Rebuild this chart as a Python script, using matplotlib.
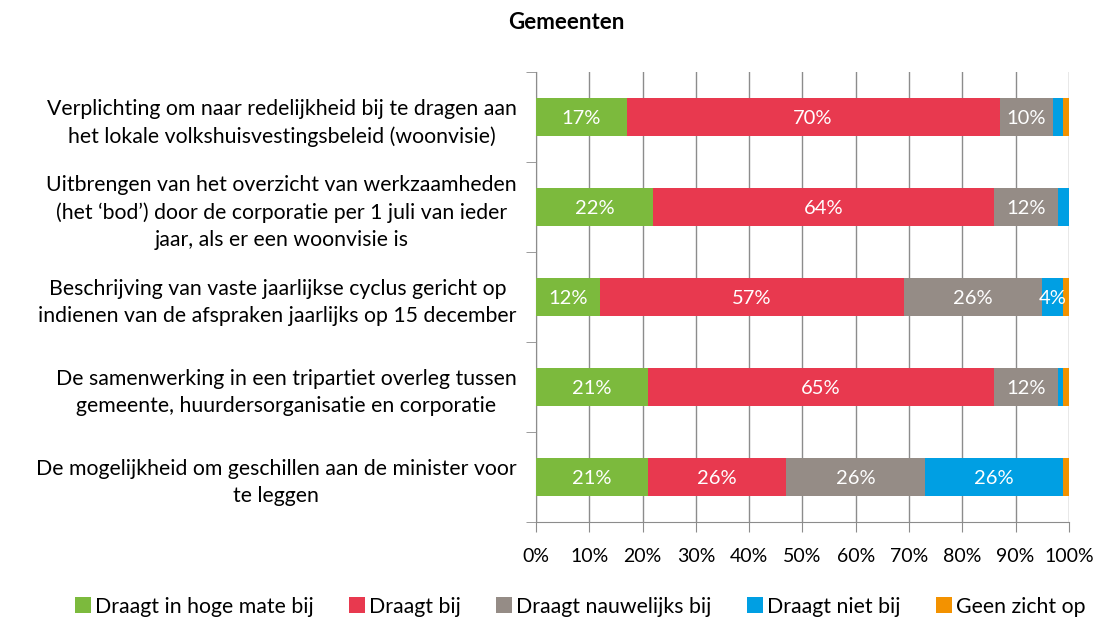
import matplotlib
matplotlib.use("Agg")
import matplotlib.pyplot as plt
import numpy as np
from matplotlib.patches import Patch

plt.rcParams['font.family'] = ['Lato', 'DejaVu Sans']

categories = [
    "Verplichting om naar redelijkheid bij te dragen aan\nhet lokale volkshuisvestingsbeleid (woonvisie)",
    "Uitbrengen van het overzicht van werkzaamheden\n(het \u2018bod\u2019) door de corporatie per 1 juli van ieder\njaar, als er een woonvisie is",
    "Beschrijving van vaste jaarlijkse cyclus gericht op\nindienen van de afspraken jaarlijks op 15 december",
    "De samenwerking in een tripartiet overleg tussen\ngemeente, huurdersorganisatie en corporatie",
    "De mogelijkheid om geschillen aan de minister voor\nte leggen",
]
series = ["Draagt in hoge mate bij", "Draagt bij", "Draagt nauwelijks bij",
          "Draagt niet bij", "Geen zicht op"]
hoge_mate = [17, 22, 12, 21, 21]
draagt_bij = [70, 64, 57, 65, 26]
nauwelijks = [10, 12, 26, 12, 26]
niet_bij = [2, 2, 4, 1, 26]
geen_zicht = [1, 0, 1, 1, 1]
colors = ["#7CBA3D", "#E8394F", "#958C86", "#009FE3", "#F39200"]

values = [hoge_mate, draagt_bij, nauwelijks, niet_bij, geen_zicht]

fig = plt.figure(figsize=(11.03, 6.17), dpi=100)
ax = fig.add_axes([0.486, 0.154, 0.483, 0.729])

y = np.arange(len(categories))
left = np.zeros(len(categories))
for vals, col in zip(values, colors):
    vals = np.array(vals, dtype=float)
    ax.barh(y, vals, left=left, height=0.42, color=col, zorder=3)
    for yi, v, l in zip(y, vals, left):
        if v >= 4:
            ax.text(l + v / 2, yi + 0.02, f"{int(v)}%", ha="center", va="center",
                    color="white", fontsize=14.5, zorder=4)
    left += vals

ax.set_xlim(0, 100)
ax.set_ylim(len(categories) - 0.5, -0.5)
ax.set_xticks(np.arange(0, 101, 10))
ax.set_xticklabels([f"{v}%" for v in range(0, 101, 10)], fontsize=14)
ax.xaxis.grid(True, color="#8c8c8c", linewidth=1, zorder=0)
ax.tick_params(axis="x", length=7, color="#8c8c8c", pad=12)

ax.set_yticks(y)
ax.set_yticklabels(categories, fontsize=15.3, multialignment="center",
                   linespacing=1.45)
ax.tick_params(axis="y", which="major", length=0, pad=14)
ax.set_yticks(np.arange(-0.5, len(categories)), minor=True)
ax.tick_params(axis="y", which="minor", length=7, color="#8c8c8c")

for side in ["top", "right"]:
    ax.spines[side].set_visible(False)
for side in ["left", "bottom"]:
    ax.spines[side].set_color("#8c8c8c")

fig.text(0.513, 0.963, "Gemeenten", ha="center", va="center",
         fontsize=16, fontweight="bold")

handles = [Patch(facecolor=c, label=s) for c, s in zip(colors, series)]
fig.legend(handles=handles, loc="center", bbox_to_anchor=(0.526, 0.017),
           ncol=5, frameon=False, fontsize=15.3, handlelength=0.75,
           handleheight=0.75, handletextpad=0.2, columnspacing=1.65)

fig.savefig("out.png", dpi=100)
